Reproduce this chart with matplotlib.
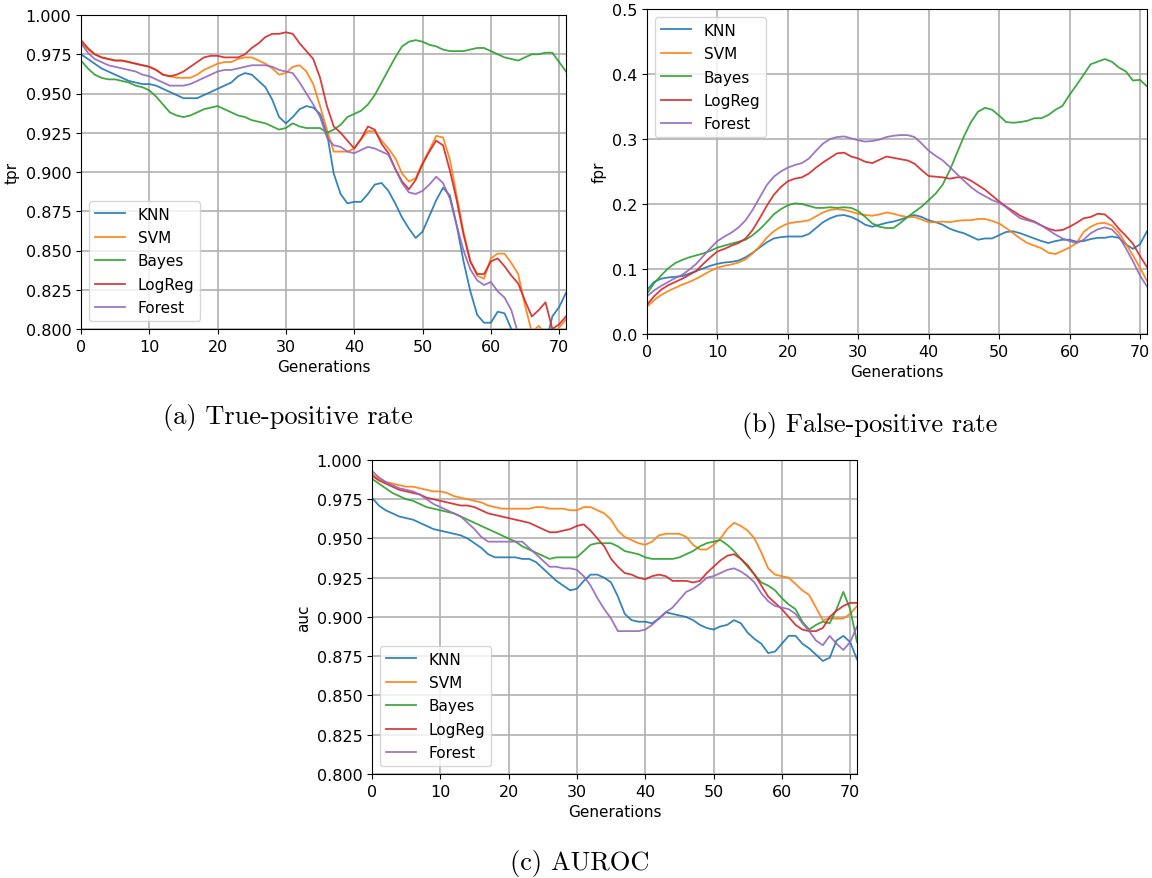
import matplotlib
matplotlib.use("Agg")
import matplotlib.pyplot as plt
import numpy as np

models = ["KNN", "SVM", "Bayes", "LogReg", "Forest"]
colors = ["#1f77b4", "#ff7f0e", "#2ca02c", "#d62728", "#9467bd"]
generations = np.arange(72)

# (a) true-positive rate
tpr_knn = [0.975, 0.972, 0.969, 0.966, 0.964, 0.962, 0.960, 0.958, 0.957, 0.956, 0.956, 0.955, 0.953, 0.951, 0.949, 0.947, 0.947, 0.947, 0.949, 0.951, 0.953, 0.955, 0.957, 0.961, 0.963, 0.962, 0.958, 0.954, 0.946, 0.935, 0.931, 0.935, 0.940, 0.942, 0.941, 0.937, 0.925, 0.899, 0.886, 0.880, 0.881, 0.881, 0.886, 0.892, 0.893, 0.888, 0.880, 0.871, 0.864, 0.858, 0.862, 0.872, 0.882, 0.890, 0.885, 0.866, 0.843, 0.824, 0.809, 0.804, 0.804, 0.811, 0.810, 0.800, 0.790, 0.785, 0.783, 0.785, 0.790, 0.808, 0.814, 0.823]
tpr_svm = [0.983, 0.978, 0.975, 0.973, 0.972, 0.971, 0.971, 0.970, 0.969, 0.968, 0.967, 0.965, 0.962, 0.961, 0.960, 0.960, 0.960, 0.962, 0.965, 0.967, 0.969, 0.970, 0.970, 0.972, 0.973, 0.973, 0.971, 0.969, 0.966, 0.962, 0.963, 0.967, 0.968, 0.964, 0.956, 0.942, 0.927, 0.913, 0.913, 0.913, 0.915, 0.921, 0.926, 0.926, 0.920, 0.915, 0.909, 0.899, 0.894, 0.896, 0.906, 0.914, 0.923, 0.922, 0.908, 0.885, 0.862, 0.843, 0.834, 0.832, 0.845, 0.848, 0.848, 0.842, 0.835, 0.815, 0.798, 0.802, 0.797, 0.793, 0.801, 0.806]
tpr_bayes = [0.971, 0.966, 0.962, 0.960, 0.959, 0.959, 0.958, 0.957, 0.955, 0.954, 0.952, 0.948, 0.943, 0.938, 0.936, 0.935, 0.936, 0.938, 0.940, 0.941, 0.942, 0.940, 0.938, 0.936, 0.935, 0.933, 0.932, 0.931, 0.929, 0.927, 0.928, 0.931, 0.929, 0.928, 0.928, 0.928, 0.925, 0.927, 0.930, 0.935, 0.937, 0.939, 0.943, 0.949, 0.957, 0.965, 0.973, 0.980, 0.983, 0.984, 0.983, 0.981, 0.980, 0.978, 0.977, 0.977, 0.977, 0.978, 0.979, 0.979, 0.977, 0.975, 0.973, 0.972, 0.971, 0.973, 0.975, 0.975, 0.976, 0.976, 0.970, 0.964]
tpr_logreg = [0.984, 0.979, 0.975, 0.973, 0.972, 0.971, 0.971, 0.970, 0.969, 0.968, 0.967, 0.965, 0.962, 0.961, 0.962, 0.964, 0.967, 0.970, 0.973, 0.974, 0.974, 0.973, 0.973, 0.973, 0.975, 0.979, 0.982, 0.986, 0.988, 0.988, 0.989, 0.988, 0.982, 0.977, 0.972, 0.960, 0.942, 0.929, 0.925, 0.920, 0.915, 0.921, 0.929, 0.927, 0.918, 0.912, 0.902, 0.894, 0.889, 0.895, 0.905, 0.913, 0.920, 0.917, 0.901, 0.882, 0.860, 0.843, 0.835, 0.835, 0.843, 0.845, 0.840, 0.834, 0.829, 0.818, 0.808, 0.812, 0.817, 0.800, 0.803, 0.808]
tpr_forest = [0.982, 0.976, 0.972, 0.970, 0.968, 0.967, 0.966, 0.965, 0.964, 0.962, 0.961, 0.959, 0.957, 0.955, 0.955, 0.955, 0.956, 0.958, 0.960, 0.962, 0.964, 0.965, 0.965, 0.966, 0.967, 0.968, 0.968, 0.968, 0.967, 0.965, 0.964, 0.963, 0.957, 0.950, 0.943, 0.935, 0.922, 0.917, 0.916, 0.913, 0.912, 0.914, 0.916, 0.915, 0.913, 0.911, 0.902, 0.893, 0.887, 0.886, 0.888, 0.892, 0.897, 0.893, 0.883, 0.866, 0.850, 0.838, 0.831, 0.828, 0.830, 0.824, 0.820, 0.812, 0.797, 0.790, 0.785, 0.780, 0.780, 0.785, 0.790, 0.795]

# (b) false-positive rate
fpr_knn = [0.068, 0.080, 0.085, 0.087, 0.088, 0.089, 0.093, 0.097, 0.101, 0.105, 0.108, 0.110, 0.111, 0.113, 0.118, 0.125, 0.133, 0.141, 0.147, 0.149, 0.150, 0.150, 0.150, 0.154, 0.163, 0.172, 0.178, 0.182, 0.183, 0.180, 0.175, 0.168, 0.165, 0.168, 0.171, 0.173, 0.176, 0.180, 0.183, 0.180, 0.175, 0.172, 0.168, 0.162, 0.158, 0.155, 0.150, 0.145, 0.147, 0.147, 0.152, 0.157, 0.158, 0.155, 0.151, 0.147, 0.143, 0.140, 0.143, 0.145, 0.145, 0.142, 0.143, 0.146, 0.148, 0.148, 0.150, 0.148, 0.138, 0.131, 0.138, 0.158]
fpr_svm = [0.042, 0.052, 0.060, 0.066, 0.071, 0.076, 0.080, 0.085, 0.091, 0.097, 0.102, 0.105, 0.107, 0.110, 0.115, 0.124, 0.135, 0.148, 0.158, 0.165, 0.170, 0.172, 0.173, 0.175, 0.181, 0.187, 0.191, 0.192, 0.191, 0.188, 0.185, 0.183, 0.182, 0.184, 0.187, 0.185, 0.182, 0.180, 0.180, 0.176, 0.172, 0.172, 0.173, 0.172, 0.174, 0.175, 0.175, 0.177, 0.177, 0.174, 0.170, 0.163, 0.155, 0.147, 0.140, 0.136, 0.132, 0.125, 0.123, 0.128, 0.133, 0.140, 0.157, 0.165, 0.170, 0.171, 0.167, 0.156, 0.139, 0.121, 0.102, 0.082]
fpr_bayes = [0.062, 0.078, 0.090, 0.101, 0.109, 0.114, 0.118, 0.121, 0.124, 0.128, 0.133, 0.136, 0.139, 0.142, 0.145, 0.152, 0.161, 0.172, 0.184, 0.192, 0.198, 0.201, 0.200, 0.197, 0.194, 0.194, 0.195, 0.194, 0.195, 0.194, 0.189, 0.180, 0.170, 0.165, 0.163, 0.163, 0.171, 0.180, 0.188, 0.196, 0.206, 0.216, 0.230, 0.252, 0.278, 0.304, 0.326, 0.342, 0.348, 0.345, 0.336, 0.326, 0.325, 0.326, 0.328, 0.332, 0.332, 0.337, 0.345, 0.351, 0.368, 0.383, 0.399, 0.415, 0.419, 0.423, 0.419, 0.410, 0.404, 0.390, 0.391, 0.381]
fpr_logreg = [0.045, 0.058, 0.068, 0.075, 0.080, 0.085, 0.091, 0.097, 0.108, 0.118, 0.127, 0.131, 0.136, 0.140, 0.147, 0.160, 0.178, 0.197, 0.214, 0.226, 0.235, 0.239, 0.241, 0.247, 0.256, 0.264, 0.271, 0.278, 0.279, 0.273, 0.270, 0.265, 0.263, 0.268, 0.273, 0.271, 0.269, 0.267, 0.262, 0.252, 0.243, 0.242, 0.241, 0.239, 0.241, 0.241, 0.236, 0.229, 0.222, 0.213, 0.204, 0.196, 0.189, 0.182, 0.177, 0.173, 0.167, 0.162, 0.159, 0.160, 0.165, 0.171, 0.178, 0.180, 0.185, 0.184, 0.175, 0.162, 0.151, 0.139, 0.120, 0.103]
fpr_forest = [0.058, 0.067, 0.074, 0.080, 0.086, 0.091, 0.099, 0.108, 0.120, 0.132, 0.143, 0.150, 0.156, 0.164, 0.175, 0.191, 0.210, 0.229, 0.242, 0.250, 0.256, 0.260, 0.263, 0.270, 0.282, 0.293, 0.300, 0.303, 0.304, 0.301, 0.298, 0.296, 0.297, 0.299, 0.303, 0.305, 0.306, 0.306, 0.303, 0.293, 0.282, 0.274, 0.267, 0.257, 0.246, 0.236, 0.226, 0.218, 0.212, 0.206, 0.202, 0.195, 0.186, 0.178, 0.175, 0.172, 0.167, 0.160, 0.153, 0.147, 0.143, 0.140, 0.145, 0.155, 0.161, 0.164, 0.161, 0.150, 0.132, 0.112, 0.090, 0.073]

# (c) AUROC
auc_knn = [0.976, 0.971, 0.968, 0.966, 0.964, 0.963, 0.962, 0.960, 0.958, 0.956, 0.955, 0.954, 0.953, 0.952, 0.950, 0.947, 0.944, 0.940, 0.938, 0.938, 0.938, 0.938, 0.937, 0.937, 0.935, 0.931, 0.927, 0.923, 0.920, 0.917, 0.918, 0.923, 0.927, 0.927, 0.925, 0.922, 0.913, 0.902, 0.898, 0.897, 0.897, 0.896, 0.899, 0.903, 0.902, 0.901, 0.900, 0.898, 0.895, 0.893, 0.892, 0.894, 0.895, 0.898, 0.896, 0.890, 0.886, 0.883, 0.877, 0.878, 0.883, 0.888, 0.888, 0.883, 0.880, 0.876, 0.872, 0.874, 0.885, 0.888, 0.884, 0.873]
auc_svm = [0.991, 0.988, 0.986, 0.985, 0.984, 0.983, 0.983, 0.982, 0.981, 0.980, 0.980, 0.979, 0.977, 0.976, 0.975, 0.974, 0.973, 0.971, 0.970, 0.969, 0.969, 0.969, 0.969, 0.969, 0.970, 0.970, 0.969, 0.969, 0.969, 0.968, 0.968, 0.970, 0.970, 0.968, 0.966, 0.962, 0.955, 0.951, 0.949, 0.947, 0.946, 0.948, 0.952, 0.953, 0.953, 0.953, 0.951, 0.946, 0.943, 0.943, 0.946, 0.950, 0.956, 0.960, 0.958, 0.955, 0.950, 0.941, 0.931, 0.927, 0.926, 0.925, 0.921, 0.917, 0.914, 0.906, 0.898, 0.899, 0.899, 0.899, 0.902, 0.907]
auc_bayes = [0.988, 0.985, 0.982, 0.979, 0.977, 0.975, 0.974, 0.972, 0.970, 0.969, 0.968, 0.967, 0.966, 0.964, 0.962, 0.960, 0.958, 0.956, 0.954, 0.952, 0.950, 0.948, 0.945, 0.943, 0.941, 0.939, 0.937, 0.938, 0.938, 0.938, 0.938, 0.942, 0.946, 0.947, 0.947, 0.947, 0.945, 0.942, 0.941, 0.940, 0.938, 0.937, 0.937, 0.937, 0.937, 0.938, 0.940, 0.942, 0.945, 0.947, 0.948, 0.949, 0.946, 0.942, 0.937, 0.932, 0.927, 0.922, 0.920, 0.917, 0.912, 0.908, 0.905, 0.897, 0.892, 0.895, 0.897, 0.896, 0.905, 0.916, 0.905, 0.884]
auc_logreg = [0.990, 0.987, 0.985, 0.983, 0.981, 0.980, 0.979, 0.978, 0.976, 0.975, 0.974, 0.973, 0.972, 0.971, 0.971, 0.970, 0.968, 0.966, 0.965, 0.964, 0.963, 0.962, 0.961, 0.960, 0.958, 0.956, 0.954, 0.954, 0.955, 0.956, 0.958, 0.959, 0.955, 0.950, 0.945, 0.937, 0.932, 0.928, 0.927, 0.925, 0.924, 0.926, 0.927, 0.926, 0.923, 0.923, 0.923, 0.922, 0.923, 0.928, 0.932, 0.936, 0.939, 0.940, 0.937, 0.933, 0.927, 0.920, 0.913, 0.909, 0.905, 0.900, 0.895, 0.892, 0.891, 0.891, 0.893, 0.900, 0.904, 0.907, 0.909, 0.909]
auc_forest = [0.993, 0.989, 0.986, 0.984, 0.982, 0.981, 0.980, 0.978, 0.975, 0.972, 0.970, 0.968, 0.966, 0.964, 0.960, 0.956, 0.951, 0.948, 0.948, 0.948, 0.948, 0.948, 0.948, 0.944, 0.940, 0.936, 0.932, 0.932, 0.931, 0.931, 0.930, 0.926, 0.920, 0.912, 0.905, 0.899, 0.891, 0.891, 0.891, 0.891, 0.892, 0.895, 0.899, 0.903, 0.906, 0.911, 0.916, 0.918, 0.921, 0.925, 0.926, 0.928, 0.930, 0.931, 0.929, 0.926, 0.922, 0.915, 0.910, 0.907, 0.906, 0.905, 0.902, 0.896, 0.891, 0.885, 0.882, 0.888, 0.883, 0.879, 0.884, 0.894]

panels = [
    ([tpr_knn, tpr_svm, tpr_bayes, tpr_logreg, tpr_forest], "tpr", (0.8, 1.0),
     np.arange(0.8, 1.0001, 0.025), "{:.3f}", "lower left", "(a) True-positive rate"),
    ([fpr_knn, fpr_svm, fpr_bayes, fpr_logreg, fpr_forest], "fpr", (0.0, 0.5),
     np.arange(0.0, 0.5001, 0.1), "{:.1f}", "upper left", "(b) False-positive rate"),
    ([auc_knn, auc_svm, auc_bayes, auc_logreg, auc_forest], "auc", (0.8, 1.0),
     np.arange(0.8, 1.0001, 0.025), "{:.3f}", "lower left", "(c) AUROC"),
]

W, H = 1152, 879
# axes boxes in pixels: left, top, right, bottom
boxes = [(81, 16, 566, 330), (647, 10, 1147, 335), (372, 461, 857, 775)]
captions_xy = [(288, 418), (870, 426), (580, 864)]

fig = plt.figure(figsize=(W / 100, H / 100), dpi=100)

for (series, ylab, ylim, yt, fmt, loc, cap), (l, t, r, b), (cx, cy) in zip(panels, boxes, captions_xy):
    ax = fig.add_axes([l / W, 1 - b / H, (r - l) / W, (b - t) / H])
    for vals, name, c in zip(series, models, colors):
        ax.plot(generations, vals, color=c, lw=1.3, label=name, alpha=0.9)
    ax.set_xlim(0, 71)
    ax.set_ylim(*ylim)
    ax.set_xticks(np.arange(0, 71, 10))
    ax.set_yticks(yt)
    ax.set_yticklabels([fmt.format(v) for v in yt])
    ax.tick_params(labelsize=11.5)
    ax.grid(True, color="#b0b0b0", lw=1.2)
    ax.set_xlabel("Generations", fontsize=11)
    ax.set_ylabel(ylab, fontsize=11)
    ax.legend(loc=loc, fontsize=11, handlelength=2.0, labelspacing=0.55)
    fig.text(cx / W, 1 - cy / H, cap, family="cmr10", fontsize=19,
             ha="center", va="center")

fig.savefig("out.png", dpi=100)
